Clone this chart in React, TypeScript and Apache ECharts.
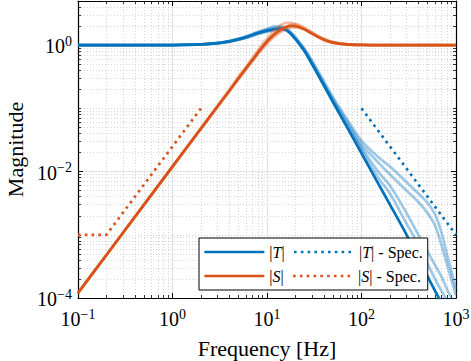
import React, { useEffect, useRef } from 'react';
import * as echarts from 'echarts';

const FONT = "'Liberation Serif', 'DejaVu Serif', serif";
const BLUE = '#0072BD';
const ORANGE = '#D95319';

// Frequencies [Hz]
const freq = [0.1, 0.2, 0.5, 1, 2, 3, 4, 5, 6, 7, 8, 10, 12, 14, 16, 18, 20, 22, 25, 30, 40, 50, 70, 100, 150, 200, 300, 400, 500, 600, 700, 800, 1000];

// |T| nominal
const tMain = [1.0, 1.0, 1.0, 1.005, 1.03, 1.08, 1.15, 1.24, 1.34, 1.45, 1.55, 1.7, 1.8, 1.85, 1.75, 1.5, 1.25, 1.05, 0.8, 0.5, 0.23, 0.125, 0.051, 0.0195, 0.0065, 0.003, 0.001, 0.00042, 0.00022, 0.00013, 0.000085, 0.00006, 0.00003];
// |T| for the perturbed plants (light curves)
const tVar1 = [1.0, 1.0, 1.0, 1.006, 1.035, 1.09, 1.17, 1.27, 1.38, 1.5, 1.62, 1.82, 1.98, 2.0, 1.85, 1.6, 1.35, 1.12, 0.88, 0.57, 0.27, 0.15, 0.068, 0.031, 0.017, 0.012, 0.0068, 0.0045, 0.0032, 0.0021, 0.0011, 0.0005, 0.00014];
const tVar2 = [1.0, 1.0, 1.0, 1.004, 1.025, 1.07, 1.13, 1.21, 1.3, 1.4, 1.5, 1.63, 1.72, 1.76, 1.7, 1.5, 1.28, 1.08, 0.84, 0.54, 0.25, 0.14, 0.062, 0.027, 0.014, 0.009, 0.005, 0.0033, 0.0022, 0.0014, 0.0007, 0.00035, 0.00011];
const tVar3 = [1.0, 1.0, 1.0, 1.005, 1.03, 1.08, 1.16, 1.26, 1.36, 1.48, 1.6, 1.76, 1.88, 1.9, 1.78, 1.52, 1.27, 1.06, 0.82, 0.52, 0.24, 0.13, 0.056, 0.024, 0.01, 0.006, 0.0022, 0.001, 0.00055, 0.00033, 0.00022, 0.00014, 0.00007];
const tVar4 = [1.0, 1.0, 1.0, 1.004, 1.028, 1.075, 1.14, 1.22, 1.31, 1.42, 1.52, 1.66, 1.76, 1.8, 1.72, 1.48, 1.24, 1.04, 0.8, 0.5, 0.235, 0.128, 0.053, 0.022, 0.008, 0.0045, 0.0015, 0.0007, 0.00035, 0.0002, 0.00013, 0.00009, 0.00005];

// |S| nominal
const sMain = [0.00012, 0.00048, 0.003, 0.012, 0.048, 0.108, 0.19, 0.3, 0.43, 0.58, 0.76, 1.15, 1.5, 1.78, 1.95, 2.02, 2.0, 1.92, 1.78, 1.52, 1.22, 1.1, 1.03, 1.01, 1.0, 1.0, 1.0, 1.0, 1.0, 1.0, 1.0, 1.0, 1.0];
const sVar1 = [0.00012, 0.00048, 0.003, 0.012, 0.049, 0.11, 0.2, 0.32, 0.46, 0.63, 0.83, 1.27, 1.72, 2.08, 2.25, 2.25, 2.12, 1.98, 1.8, 1.52, 1.2, 1.09, 1.03, 1.01, 1.0, 1.0, 1.0, 1.0, 1.0, 1.0, 1.0, 1.0, 1.0];
const sVar2 = [0.00012, 0.00048, 0.003, 0.012, 0.047, 0.105, 0.185, 0.29, 0.41, 0.55, 0.71, 1.05, 1.36, 1.62, 1.8, 1.9, 1.92, 1.88, 1.78, 1.55, 1.24, 1.11, 1.03, 1.01, 1.0, 1.0, 1.0, 1.0, 1.0, 1.0, 1.0, 1.0, 1.0];
const sVar3 = [0.00012, 0.00048, 0.003, 0.012, 0.048, 0.107, 0.19, 0.3, 0.43, 0.58, 0.76, 1.12, 1.45, 1.72, 1.95, 2.1, 2.15, 2.08, 1.9, 1.6, 1.26, 1.12, 1.04, 1.01, 1.0, 1.0, 1.0, 1.0, 1.0, 1.0, 1.0, 1.0, 1.0];

// Specifications
const sSpecFreq = [0.1, 0.2, 2];
const sSpecVal = [0.001, 0.001, 0.1];
const tSpecFreq = [100, 1000];
const tSpecVal = [0.1, 0.001];

// Ticks
const xMajor = [0.1, 1, 10, 100, 1000];
const xMinor = [0.2, 0.3, 0.4, 0.5, 0.6, 0.7, 0.8, 0.9, 2, 3, 4, 5, 6, 7, 8, 9, 20, 30, 40, 50, 60, 70, 80, 90, 200, 300, 400, 500, 600, 700, 800, 900];
const yMajor = [0.0001, 0.01, 1];
const yMinor = [0.0002, 0.0003, 0.0004, 0.0005, 0.0006, 0.0007, 0.0008, 0.0009, 0.001, 0.002, 0.003, 0.004, 0.005, 0.006, 0.007, 0.008, 0.009, 0.02, 0.03, 0.04, 0.05, 0.06, 0.07, 0.08, 0.09, 0.1, 0.2, 0.3, 0.4, 0.5, 0.6, 0.7, 0.8, 0.9, 2, 3, 4];

const legendNames = ['|T|', '|T| - Spec.', '|S|', '|S| - Spec.'];

const pow10Label = (v: number) => {
  const e = Math.round(Math.log10(v));
  const s = e < 0 ? '\u2212' + Math.abs(e) : String(e);
  return `{b|10}{s|${s}}`;
};
const labelRich = {
  b: { fontFamily: FONT, fontSize: 20, color: '#000', verticalAlign: 'bottom', lineHeight: 22 },
  s: { fontFamily: FONT, fontSize: 14, color: '#000', verticalAlign: 'top', lineHeight: 14 },
};

export default function App() {
  const ref = useRef<HTMLDivElement>(null);
  useEffect(() => {
    document.body.style.margin = '0';
    document.body.style.overflow = 'hidden';
    const chart = echarts.init(ref.current!, undefined, { renderer: 'svg' });
    const xBase = { type: 'log', logBase: 10, min: 0.1, max: 1000, gridIndex: 0 };
    const yBase = { type: 'log', logBase: 10, min: 0.0001, max: 5, gridIndex: 0 };
    const axLine = { show: true, onZero: false, lineStyle: { color: '#000', width: 1.2 } };
    const majGrid = { show: true, lineStyle: { color: '#e2e2e2', width: 1.2, type: 'solid' } };
    const minGrid = { show: true, lineStyle: { color: '#cdcdcd', width: 0.8, type: [1, 2] } };
    const majTick = (vals: number[]) => ({ show: true, inside: true, length: 5, customValues: vals, lineStyle: { color: '#000', width: 1 } });
    const minTick = (vals: number[]) => ({ show: true, inside: true, length: 3, customValues: vals, lineStyle: { color: '#000', width: 0.8 } });
    const off = { show: false };

    const line = (name: string, xs: number[], ys: number[], color: string, opts: any = {}) => ({
      type: 'line',
      name,
      data: xs.map((f, i) => [f, ys[i]]),
      symbol: 'none',
      showSymbol: false,
      smooth: opts.smooth ?? 0.3,
      silent: true,
      emphasis: { disabled: true },
      clip: true,
      xAxisIndex: 0,
      yAxisIndex: 0,
      lineStyle: { color, width: 2.7, opacity: 1, ...(opts.lineStyle || {}) },
      itemStyle: { color },
      z: opts.z ?? 2,
    });
    const light = { lineStyle: { opacity: 0.38, width: 2.7 }, z: 1 };
    const spec = { lineStyle: { type: [2.6, 4.2], cap: 'butt' }, z: 5, smooth: false };

    chart.setOption({
      animation: false,
      backgroundColor: '#fff',
      grid: { left: 78, right: 15, top: 1, bottom: 63, containLabel: false, outerBoundsMode: 'none' },
      legend: {
        data: legendNames,
        left: 199,
        top: 238,
        width: 232,
        orient: 'horizontal',
        itemWidth: 60,
        itemHeight: 12,
        itemGap: 8,
        padding: [6, 5, 6, 4],
        borderColor: '#000',
        borderWidth: 1,
        borderRadius: 0,
        backgroundColor: '#fff',
        selectedMode: false,
        itemStyle: { opacity: 0, borderWidth: 0 },
        lineStyle: { width: 2.7 },
        textStyle: {
          fontFamily: FONT,
          fontSize: 16,
          color: '#000',
          lineHeight: 12,
          rich: { i: { fontFamily: FONT, fontSize: 16, fontStyle: 'italic', color: '#000', lineHeight: 12 } },
        },
        formatter: (name: string) => name.replace(/\|(T|S)\|/, '|{i|$1}|'),
      },
      xAxis: [
        {
          ...xBase, position: 'bottom',
          name: 'Frequency [Hz]', nameLocation: 'middle', nameGap: 39,
          nameTextStyle: { fontFamily: FONT, fontSize: 22, color: '#000' },
          axisLine: axLine, axisTick: majTick(xMajor),
          axisLabel: { show: true, customValues: xMajor, formatter: pow10Label, rich: labelRich, margin: 9 },
          splitLine: majGrid,
        },
        { ...xBase, position: 'bottom', axisLine: off, axisTick: minTick(xMinor), axisLabel: off, splitLine: minGrid },
        { ...xBase, position: 'top', axisLine: axLine, axisTick: majTick(xMajor), axisLabel: off, splitLine: off },
        { ...xBase, position: 'top', axisLine: off, axisTick: minTick(xMinor), axisLabel: off, splitLine: off },
      ],
      yAxis: [
        {
          ...yBase, position: 'left',
          name: 'Magnitude', nameLocation: 'middle', nameGap: 46,
          nameTextStyle: { fontFamily: FONT, fontSize: 22, color: '#000' },
          axisLine: axLine, axisTick: majTick(yMajor),
          axisLabel: { show: true, customValues: yMajor, formatter: pow10Label, rich: labelRich, margin: 6 },
          splitLine: majGrid,
        },
        { ...yBase, position: 'left', axisLine: off, axisTick: minTick(yMinor), axisLabel: off, splitLine: minGrid },
        { ...yBase, position: 'right', axisLine: axLine, axisTick: majTick(yMajor), axisLabel: off, splitLine: off },
        { ...yBase, position: 'right', axisLine: off, axisTick: minTick(yMinor), axisLabel: off, splitLine: off },
      ],
      series: [
        line('tv1', freq, tVar1, BLUE, light),
        line('tv2', freq, tVar2, BLUE, light),
        line('tv3', freq, tVar3, BLUE, light),
        line('tv4', freq, tVar4, BLUE, light),
        line('|T|', freq, tMain, BLUE, { z: 2 }),
        line('sv1', freq, sVar1, ORANGE, { ...light, z: 3 }),
        line('sv2', freq, sVar2, ORANGE, { ...light, z: 3 }),
        line('sv3', freq, sVar3, ORANGE, { ...light, z: 3 }),
        line('|S|', freq, sMain, ORANGE, { z: 4 }),
        line('|T| - Spec.', tSpecFreq, tSpecVal, BLUE, spec),
        line('|S| - Spec.', sSpecFreq, sSpecVal, ORANGE, spec),
      ],
    });
    return () => chart.dispose();
  }, []);
  return <div ref={ref} style={{ width: 471, height: 361 }} />;
}
